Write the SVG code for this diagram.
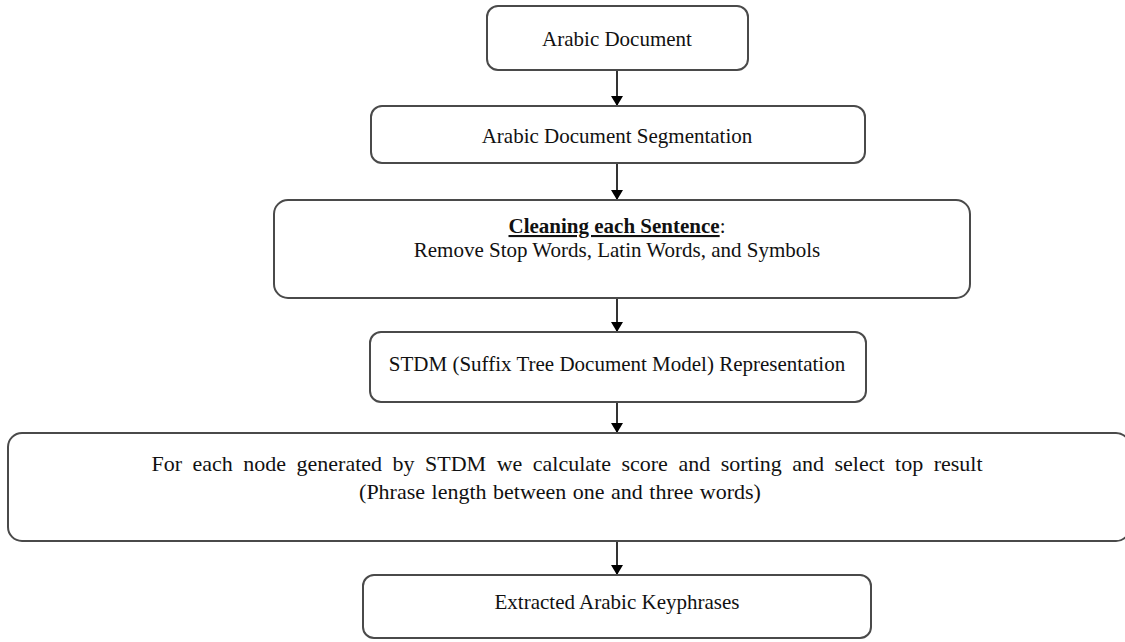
<svg xmlns="http://www.w3.org/2000/svg" width="1125" height="642" viewBox="0 0 1125 642">
  <style>
    .box { fill: #ffffff; stroke: #4a4a4a; stroke-width: 2; }
    .lbl { font-family: "Liberation Serif", "Times New Roman", serif; font-size: 21px; fill: #111; text-anchor: middle; }
    .wide { font-size: 22px; }
    .head { font-weight: bold; text-decoration: underline; }
    .conn { stroke: #000; stroke-width: 1.6; fill: none; marker-end: url(#arrow); }
  </style>
  <defs>
    <marker id="arrow" viewBox="0 0 10 12" refX="10" refY="6" markerWidth="10" markerHeight="12" markerUnits="userSpaceOnUse" orient="auto">
      <path d="M0,0 L10,6 L0,12 Z" fill="#000"/>
    </marker>
  </defs>
  <rect width="1125" height="642" fill="#ffffff"/>

  <g id="connectors">
    <line class="conn" x1="617" y1="70" x2="617" y2="106"/>
    <line class="conn" x1="617" y1="163" x2="617" y2="200"/>
    <line class="conn" x1="617" y1="298" x2="617" y2="332"/>
    <line class="conn" x1="617" y1="402" x2="617" y2="433"/>
    <line class="conn" x1="617" y1="541" x2="617" y2="575"/>
  </g>

  <g id="arabic-document">
    <rect class="box" x="487" y="6" width="261" height="64" rx="11"/>
    <text class="lbl" x="617" y="46">Arabic Document</text>
  </g>

  <g id="segmentation">
    <rect class="box" x="371" y="106" width="494" height="57" rx="11"/>
    <text class="lbl" x="617" y="143">Arabic Document Segmentation</text>
  </g>

  <g id="cleaning">
    <rect class="box" x="274" y="200" width="696" height="98" rx="14"/>
    <text class="lbl" x="617" y="233"><tspan class="head">Cleaning each Sentence</tspan>:</text>
    <text class="lbl" x="617" y="257">Remove Stop Words, Latin Words, and Symbols</text>
  </g>

  <g id="stdm">
    <rect class="box" x="370" y="332" width="496" height="70" rx="11"/>
    <text class="lbl" x="617" y="371">STDM (Suffix Tree Document Model) Representation</text>
  </g>

  <g id="scoring">
    <rect class="box" x="8" y="433" width="1122" height="108" rx="14"/>
    <text class="lbl wide" x="567" y="471" word-spacing="5">For each node generated by STDM we calculate score and sorting and select top result</text>
    <text class="lbl wide" x="560" y="499" word-spacing="1">(Phrase length between one and three words)</text>
  </g>

  <g id="keyphrases">
    <rect class="box" x="363" y="575" width="508" height="63" rx="11"/>
    <text class="lbl" x="617" y="609">Extracted Arabic Keyphrases</text>
  </g>
</svg>
